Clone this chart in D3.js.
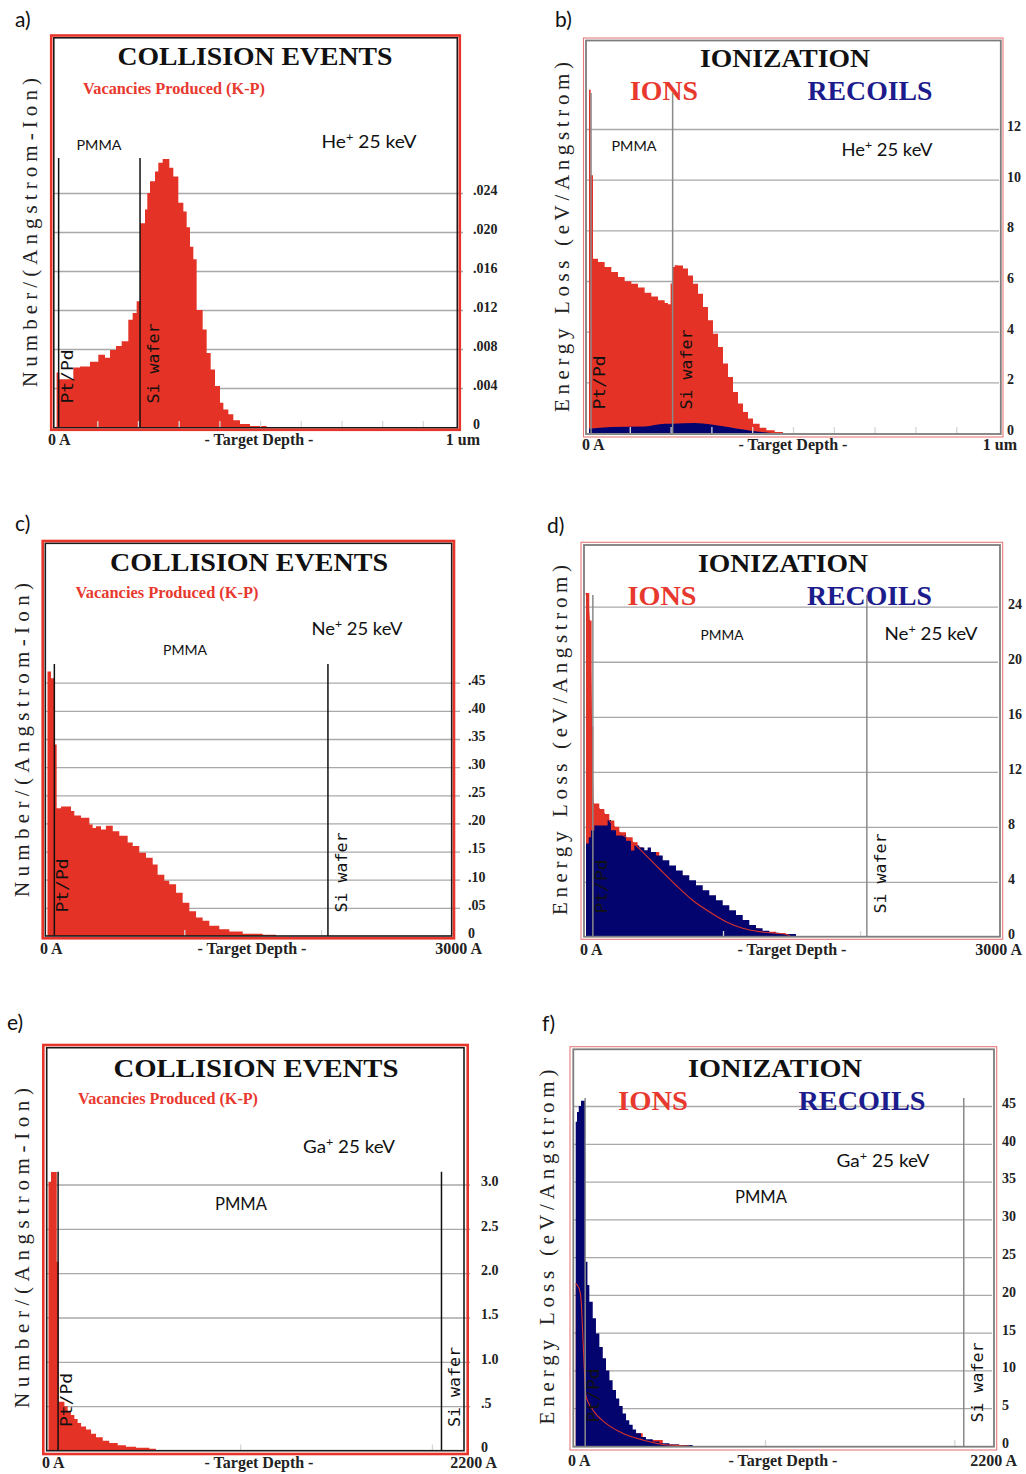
<!DOCTYPE html>
<html>
<head>
<meta charset="utf-8">
<script src="https://cdn.jsdelivr.net/npm/d3@7"></script>
<style>
  body { margin: 0; background: #fff; }
</style>
</head>
<body>
<div id="fig"></div>
<script>
// Layer boundaries in Angstrom: Pt/Pd cap | PMMA | Si wafer
const layerBounds = [50, 2050];
const layerNames = ["Pt/Pd", "Si wafer"];

// a) He+ 25 keV, vacancies
const aDepth = [0, 67, 411, 575, 821, 1025, 1189, 1312, 1460, 1599, 1762, 1869, 1967, 2050, 2172, 2229, 2295, 2417, 2499, 2606, 2770, 2868, 2991, 3114, 3196, 3278, 3360, 3441, 3589, 3687, 3786, 3892, 4015, 4097, 4220, 4342, 4506, 4752, 5161];
const aVac = [0.0056, 0.0049, 0.0061, 0.0062, 0.0067, 0.0074, 0.0071, 0.0079, 0.0083, 0.0088, 0.0110, 0.0117, 0.0129, 0.0209, 0.0223, 0.0240, 0.0252, 0.0262, 0.0271, 0.0275, 0.0266, 0.0257, 0.0230, 0.0221, 0.0205, 0.0185, 0.0172, 0.0120, 0.0100, 0.0076, 0.0059, 0.0042, 0.0025, 0.0018, 0.0013, 0.0007, 0.0003, 0.0001, 0];
const aTicks = [0, 0.004, 0.008, 0.012, 0.016, 0.020, 0.024];
const aTickLabels = ["0", ".004", ".008", ".012", ".016", ".020", ".024"];

// b) He+ 25 keV, ionization
const bDepth = [0, 41, 98, 221, 384, 547, 711, 874, 1038, 1201, 1364, 1528, 1691, 1855, 1936, 2000, 2050, 2100, 2181, 2304, 2426, 2549, 2672, 2794, 2917, 3039, 3162, 3284, 3407, 3529, 3652, 3775, 3897, 4020, 4183, 4346, 4551, 4755];
const bIons = [13.55, 10.17, 6.88, 6.75, 6.55, 6.36, 6.16, 5.99, 5.89, 5.74, 5.54, 5.39, 5.24, 5.13, 5.08, 5.9, 6.55, 6.62, 6.61, 6.49, 6.22, 5.89, 5.50, 4.97, 4.45, 3.92, 3.39, 2.74, 2.21, 1.62, 1.16, 0.83, 0.57, 0.37, 0.21, 0.11, 0.04, 0];
const bRecDepth = [0, 547, 1364, 1855, 2059, 2590, 3000, 3407, 3816, 4224, 4469];
const bRecoils = [0.17, 0.24, 0.26, 0.37, 0.37, 0.39, 0.34, 0.24, 0.13, 0.04, 0];
const bTicks = [0, 2, 4, 6, 8, 10, 12];
const bTickLabels = ["0", "2", "4", "6", "8", "10", "12"];

// c) Ne+ 25 keV, vacancies
const cDepth = [0, 26, 49, 67, 99, 172, 196, 245, 306, 330, 354, 391, 427, 477, 525, 586, 623, 671, 720, 769, 805, 854, 890, 940, 988, 1037, 1086, 1134, 1183, 1256, 1329, 1427, 1573, 1670];
const cVac = [0.470, 0.458, 0.34, 0.227, 0.230, 0.222, 0.214, 0.210, 0.198, 0.192, 0.195, 0.189, 0.196, 0.186, 0.178, 0.166, 0.160, 0.148, 0.139, 0.127, 0.109, 0.098, 0.092, 0.077, 0.059, 0.044, 0.033, 0.027, 0.018, 0.012, 0.008, 0.004, 0.002, 0];
const cTicks = [0, 0.05, 0.10, 0.15, 0.20, 0.25, 0.30, 0.35, 0.40, 0.45];
const cTickLabels = ["0", ".05", ".10", ".15", ".20", ".25", ".30", ".35", ".40", ".45"];

// d) Ne+ 25 keV, ionization
const dIonDepth = [0, 24, 41, 53, 97, 134, 170, 207, 243, 292, 341, 377, 414, 535, 657, 778, 900, 1022, 1144, 1265, 1387, 1460, 1500];
const dIons = [25.0, 23.0, 15.3, 9.7, 9.3, 8.94, 8.46, 8.02, 7.61, 7.25, 6.89, 6.53, 6.17, 4.96, 3.76, 2.67, 1.83, 1.11, 0.63, 0.39, 0.27, 0.2, 0];
const dRecDepth = [0, 20, 36, 61, 158, 182, 219, 292, 328, 353, 389, 426, 450, 474, 511, 560, 608, 657, 706, 754, 803, 852, 900, 949, 998, 1046, 1095, 1144, 1192, 1241, 1289, 1338, 1411, 1533];
const dRecoils = [6.8, 7.25, 7.73, 8.1, 8.5, 7.75, 7.37, 7.0, 6.29, 6.65, 6.5, 6.3, 6.5, 6.17, 5.93, 5.57, 5.2, 4.84, 4.48, 4.12, 3.76, 3.40, 3.04, 2.67, 2.31, 1.95, 1.59, 1.23, 0.87, 0.63, 0.46, 0.31, 0.22, 0];
const dTicks = [0, 4, 8, 12, 16, 20, 24];
const dTickLabels = ["0", "4", "8", "12", "16", "20", "24"];

// e) Ga+ 25 keV, vacancies
const eDepth = [0, 13, 43, 53, 83, 100, 117, 135, 152, 170, 196, 222, 248, 283, 317, 361, 404, 457, 526, 560];
const eVac = [3.03, 3.14, 2.13, 0.55, 0.50, 0.44, 0.40, 0.356, 0.31, 0.27, 0.236, 0.19, 0.15, 0.11, 0.086, 0.06, 0.041, 0.03, 0.019, 0];
const eTicks = [0, 0.5, 1.0, 1.5, 2.0, 2.5, 3.0];
const eTickLabels = ["0", ".5", "1.0", "1.5", "2.0", "2.5", "3.0"];

// f) Ga+ 25 keV, ionization
const fIonDepth = [0, 19, 28, 37, 46, 54, 90, 160, 248, 354, 460, 547, 600];
const fIons = [21.5, 20.8, 19.5, 15.0, 10.0, 6.6, 4.8, 3.0, 1.7, 0.8, 0.2, 0.05, 0];
const fRecDepth = [0, 7, 16, 28, 50, 62, 72, 90, 107, 125, 143, 160, 178, 195, 213, 230, 248, 266, 283, 301, 319, 345, 371, 407, 442, 495, 547, 618];
const fRecoils = [42.9, 44.2, 45.0, 45.7, 24.4, 21.3, 19.1, 16.9, 14.9, 13.1, 11.6, 10.0, 8.7, 7.4, 6.3, 5.3, 4.3, 3.4, 2.8, 2.2, 1.7, 1.2, 0.9, 0.6, 0.35, 0.2, 0.13, 0];
const fTicks = [0, 5, 10, 15, 20, 25, 30, 35, 40, 45];
const fTickLabels = ["0", "5", "10", "15", "20", "25", "30", "35", "40", "45"];

const longXTicks = [1000, 2000, 3000, 4000, 5000, 6000, 7000, 8000, 9000];
const shortXTicks = [1000, 2000];

const RED = "#e53226";
const NAVY = "#04046e";
const SERIF = "'Liberation Serif', 'Times New Roman', serif";
const SANS = "Lato, 'Open Sans', sans-serif";
const MONO = "'DejaVu Sans Mono', monospace";

// frame styles for the two kinds of SRIM plots
const collisionFrame = { outerColor: "#e8352b", outerW: 2.6, innerColor: "#1a1a1a", innerW: 1.6, lineColor: "#111" };
const ionFrame = { outerColor: "#e77a7a", outerW: 1.1, innerColor: "#7d7d7d", innerW: 1.8, lineColor: "#8a8a8a" };

const panels = [
  { id: "a", kind: "collision", letter: [15, 27], outer: [51.2, 35.5, 459.8, 429.8], inner: [53.8, 37.8, 457.3, 427.8],
    x0: 56.6, pxPerA: 0.0407, xMax: 10000, y0: 427, yTop: 193, yTopVal: 0.024,
    ticks: aTicks, tickLabels: aTickLabels, labelX: 473, gridRight: 463, xTicks: longXTicks, lineTop: 158,
    xLabelY: 445, zeroX: 48, midX: 259, endX: 480, endLabel: "1 um",
    title: [255, 65, 275], sub: [174, 94, 182],
    ion: ["He", 369, 148, 95], pmma: [99, 150, 45, 14], yLab: [30, 232.5, 309],
    series: [{ type: "area", depth: aDepth, values: aVac, color: RED }] },
  { id: "b", kind: "ion", letter: [555, 27], outer: [583.5, 38, 1003, 437], inner: [586, 40.5, 1000.8, 434],
    x0: 589, pxPerA: 0.0408, xMax: 10000, y0: 433, yTop: 129, yTopVal: 12,
    ticks: bTicks, tickLabels: bTickLabels, labelX: 1007, gridRight: 999, xTicks: longXTicks, lineTop: 93,
    xLabelY: 450, zeroX: 582, midX: 793, endX: 1017, endLabel: "1 um",
    title: [785, 67, 170], ions: [664, 100, 68], recoils: [870, 100, 125],
    ion: ["He", 887, 156, 91], pmma: [634, 151, 45, 14], yLab: [562, 237, 350],
    series: [
      { type: "area", depth: bDepth, values: bIons, color: RED },
      { type: "area", depth: bRecDepth, values: bRecoils, color: NAVY, smooth: true }
    ] },
  { id: "c", kind: "collision", letter: [15, 531], outer: [42.7, 541, 454, 938.3], inner: [45.3, 543.3, 451.7, 936],
    x0: 47.5, pxPerA: 0.1368, xMax: 3000, y0: 936, yTop: 682.7, yTopVal: 0.45,
    ticks: cTicks, tickLabels: cTickLabels, labelX: 468, gridRight: 460, xTicks: shortXTicks, lineTop: 664,
    xLabelY: 954, zeroX: 40, midX: 252, endX: 482, endLabel: "3000 A",
    title: [249, 571, 278], sub: [167, 598, 183],
    ion: ["Ne", 357, 635, 91], pmma: [185, 655, 44, 14], yLab: [22, 740, 314],
    series: [{ type: "area", depth: cDepth, values: cVac, color: RED }] },
  { id: "d", kind: "ion", letter: [547, 533], outer: [581, 542.3, 1002.7, 939.3], inner: [584, 545, 1000, 936.7],
    x0: 586, pxPerA: 0.137, xMax: 3000, y0: 937, yTop: 606.7, yTopVal: 24,
    ticks: dTicks, tickLabels: dTickLabels, labelX: 1008, gridRight: 998, xTicks: shortXTicks, lineTop: 595,
    xLabelY: 955, zeroX: 580, midX: 792, endX: 1022, endLabel: "3000 A",
    title: [783, 572, 170], ions: [662, 605, 69], recoils: [869.5, 605, 125],
    ion: ["Ne", 931, 640, 93], pmma: [722, 640, 43, 14], yLab: [560, 740, 350],
    series: [
      { type: "area", depth: dIonDepth, values: dIons, color: RED },
      { type: "area", depth: dRecDepth, values: dRecoils, color: NAVY },
      { type: "line", depth: dIonDepth, values: dIons, color: "#d8322a" }
    ] },
  { id: "e", kind: "collision", letter: [7, 1030], outer: [43.3, 1045, 467.7, 1454], inner: [46.7, 1047.7, 464, 1450.7],
    x0: 48.5, pxPerA: 0.1917, xMax: 2200, y0: 1450.5, yTop: 1184.5, yTopVal: 3.0,
    ticks: eTicks, tickLabels: eTickLabels, labelX: 481, gridRight: 470, xTicks: shortXTicks, lineTop: 1171.7,
    xLabelY: 1468, zeroX: 42, midX: 259, endX: 497, endLabel: "2200 A",
    title: [256, 1077, 285], sub: [168, 1104, 180],
    ion: ["Ga", 349, 1153, 92], pmma: [241, 1210, 52, 17], yLab: [22, 1248, 320],
    series: [{ type: "area", depth: eDepth, values: eVac, color: RED }] },
  { id: "f", kind: "ion", letter: [542, 1031], outer: [570, 1046.7, 996.7, 1450], inner: [573.3, 1049.3, 994, 1446.7],
    x0: 575.7, pxPerA: 0.1893, xMax: 2200, y0: 1446, yTop: 1106, yTopVal: 45,
    ticks: fTicks, tickLabels: fTickLabels, labelX: 1002, gridRight: 992, xTicks: shortXTicks, lineTop: 1098,
    xLabelY: 1466, zeroX: 568, midX: 783, endX: 1017, endLabel: "2200 A",
    title: [775, 1077, 174], ions: [653, 1110, 70], recoils: [862, 1110, 127],
    ion: ["Ga", 883, 1167, 93], pmma: [761, 1203, 52, 17], yLab: [547, 1247, 355],
    series: [
      { type: "area", depth: fIonDepth, values: fIons, color: RED },
      { type: "area", depth: fRecDepth, values: fRecoils, color: NAVY },
      { type: "line", depth: fIonDepth, values: fIons, color: "#d8322a" }
    ] }
];

const svg = d3.select("#fig").append("svg")
  .attr("width", 1026)
  .attr("height", 1474)
  .style("background", "#fff");

function addText(g, x, y, str, opts) {
  const t = g.append("text")
    .attr("x", x)
    .attr("y", y)
    .attr("font-family", opts.family || SERIF)
    .attr("font-size", opts.size)
    .attr("font-weight", opts.weight || "normal")
    .attr("fill", opts.color || "#111")
    .attr("text-anchor", opts.anchor || "start")
    .text(str);
  if (opts.len) t.attr("textLength", opts.len).attr("lengthAdjust", "spacingAndGlyphs");
  return t;
}

function drawPanel(p) {
  const style = p.kind === "collision" ? collisionFrame : ionFrame;
  const g = svg.append("g");
  const [ix1, iy1, ix2, iy2] = p.inner;
  const [ox1, oy1, ox2, oy2] = p.outer;

  const x = d3.scaleLinear().domain([0, p.xMax]).range([p.x0, p.x0 + p.xMax * p.pxPerA]);
  const y = d3.scaleLinear().domain([0, p.yTopVal]).range([p.y0, p.yTop]);

  const clipId = "clip-" + p.id;
  g.append("clipPath").attr("id", clipId)
    .append("rect")
    .attr("x", ix1).attr("y", iy1)
    .attr("width", ix2 - ix1).attr("height", iy2 - iy1);

  // horizontal gridlines
  g.append("g")
    .attr("transform", `translate(${ix1},0)`)
    .call(d3.axisRight(y).tickValues(p.ticks.filter(v => v > 0)).tickSize(p.gridRight - ix1).tickFormat(""))
    .call(s => s.select(".domain").remove())
    .selectAll("line")
    .attr("stroke", "#a9a9a9")
    .attr("stroke-width", 1.3);

  // histograms
  const plot = g.append("g").attr("clip-path", `url(#${clipId})`);
  p.series.forEach(s => {
    const pts = d3.zip(s.depth, s.values);
    if (s.type === "area") {
      plot.append("path")
        .datum(pts)
        .attr("fill", s.color)
        .attr("d", d3.area()
          .x(d => x(d[0]))
          .y0(p.y0)
          .y1(d => y(d[1]))
          .curve(s.smooth ? d3.curveMonotoneX : d3.curveStepAfter));
    } else {
      plot.append("path")
        .datum(pts)
        .attr("fill", "none")
        .attr("stroke", s.color)
        .attr("stroke-width", 1.1)
        .attr("d", d3.line()
          .x(d => x(d[0]))
          .y(d => y(d[1]))
          .curve(d3.curveMonotoneX));
    }
  });

  // depth ticks along the bottom
  g.append("g")
    .attr("transform", `translate(0,${p.y0})`)
    .call(d3.axisTop(x).tickValues(p.xTicks).tickSize(6).tickFormat(""))
    .call(s => s.select(".domain").remove())
    .selectAll("line")
    .attr("stroke", "#d6d6d6")
    .attr("stroke-width", 1.3);

  // layer boundaries and their labels
  layerBounds.forEach((b, i) => {
    g.append("line")
      .attr("x1", x(b)).attr("x2", x(b))
      .attr("y1", p.lineTop).attr("y2", p.y0)
      .attr("stroke", style.lineColor)
      .attr("stroke-width", 1.5);
    const off = i === 0 ? 14 : 19;
    g.append("text")
      .attr("transform", `translate(${x(b) + off},${p.y0 - 23.5}) rotate(-90)`)
      .attr("font-family", MONO)
      .attr("font-size", 16)
      .attr("fill", "#111")
      .attr("textLength", i === 0 ? 54 : 80)
      .attr("lengthAdjust", "spacingAndGlyphs")
      .text(layerNames[i]);
  });

  // frames
  g.append("rect")
    .attr("x", ix1).attr("y", iy1)
    .attr("width", ix2 - ix1).attr("height", iy2 - iy1)
    .attr("fill", "none")
    .attr("stroke", style.innerColor)
    .attr("stroke-width", style.innerW);
  g.append("rect")
    .attr("x", ox1).attr("y", oy1)
    .attr("width", ox2 - ox1).attr("height", oy2 - oy1)
    .attr("fill", "none")
    .attr("stroke", style.outerColor)
    .attr("stroke-width", style.outerW);

  // right-hand value labels (sit a little above their gridlines)
  g.append("g")
    .attr("transform", `translate(${p.labelX},0)`)
    .call(d3.axisRight(y).tickValues(p.ticks).tickSize(0).tickPadding(0)
      .tickFormat(d => p.tickLabels[p.ticks.indexOf(d)]))
    .call(s => s.select(".domain").remove())
    .selectAll("text")
    .attr("dy", "0.1em")
    .attr("font-family", SERIF)
    .attr("font-weight", "bold")
    .attr("font-size", 14)
    .attr("fill", "#222");

  // depth axis labels
  addText(g, p.zeroX, p.xLabelY, "0 A", { size: 16, weight: "bold", color: "#222" });
  addText(g, p.midX, p.xLabelY, "- Target Depth -", { size: 16, weight: "bold", color: "#222", anchor: "middle" });
  addText(g, p.endX, p.xLabelY, p.endLabel, { size: 16, weight: "bold", color: "#222", anchor: "end" });

  // titles
  if (p.kind === "collision") {
    addText(g, p.title[0], p.title[1], "COLLISION EVENTS", { size: 26, weight: "bold", anchor: "middle", len: p.title[2] });
    addText(g, p.sub[0], p.sub[1], "Vacancies Produced (K-P)", { size: 16, weight: "bold", color: "#e8392f", anchor: "middle", len: p.sub[2] });
  } else {
    addText(g, p.title[0], p.title[1], "IONIZATION", { size: 26, weight: "bold", anchor: "middle", len: p.title[2] });
    addText(g, p.ions[0], p.ions[1], "IONS", { size: 27, weight: "bold", color: "#e8392f", anchor: "middle", len: p.ions[2] });
    addText(g, p.recoils[0], p.recoils[1], "RECOILS", { size: 27, weight: "bold", color: "#1c1c8c", anchor: "middle", len: p.recoils[2] });
  }

  // ion species label with superscript
  const ionText = g.append("text")
    .attr("x", p.ion[1]).attr("y", p.ion[2])
    .attr("font-family", SANS)
    .attr("font-size", 18)
    .attr("fill", "#111")
    .attr("text-anchor", "middle")
    .attr("textLength", p.ion[3])
    .attr("lengthAdjust", "spacingAndGlyphs");
  ionText.append("tspan").text(p.ion[0]);
  ionText.append("tspan").attr("dy", -7).attr("font-size", 12).text("+");
  ionText.append("tspan").attr("dy", 7).text(" 25 keV");

  addText(g, p.pmma[0], p.pmma[1], "PMMA", { family: SANS, size: p.pmma[3], anchor: "middle", len: p.pmma[2] });

  // rotated y axis title
  g.append("text")
    .attr("transform", `translate(${p.yLab[0]},${p.yLab[1]}) rotate(-90)`)
    .attr("font-family", SERIF)
    .attr("font-size", 21)
    .attr("fill", "#222")
    .attr("text-anchor", "middle")
    .attr("dominant-baseline", "central")
    .attr("textLength", p.yLab[2])
    .attr("lengthAdjust", "spacing")
    .text(p.kind === "collision" ? "Number/(Angstrom-Ion)" : "Energy Loss (eV/Angstrom)");

  // panel letter
  addText(svg, p.letter[0], p.letter[1], p.id + ")", { family: SANS, size: 21, color: "#111" });
}

panels.forEach(drawPanel);
</script>
</body>
</html>
